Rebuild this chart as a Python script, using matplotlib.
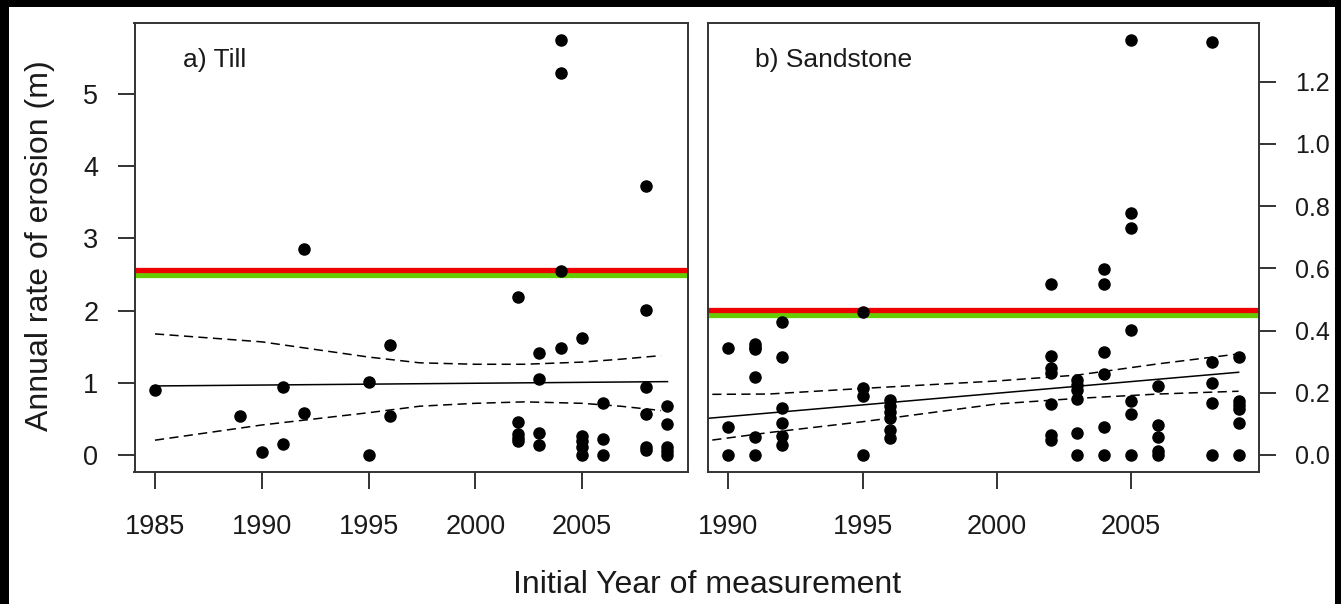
import matplotlib
matplotlib.use('Agg')
import matplotlib.pyplot as plt
from matplotlib.patches import Rectangle

plt.rcParams['font.family'] = ['Liberation Sans', 'DejaVu Sans']

# a) Till: initial year and annual erosion rate (m)
till_year = [1985, 1989, 1990, 1991, 1991, 1992, 1992, 1995, 1995, 1996, 1996,
             2002, 2002, 2002, 2002, 2002,
             2003, 2003, 2003, 2003,
             2004, 2004, 2004, 2004,
             2005, 2005, 2005, 2005, 2005,
             2006, 2006, 2006,
             2008, 2008, 2008, 2008, 2008, 2008,
             2009, 2009, 2009, 2009, 2009]
till_rate = [0.91, 0.54, 0.05, 0.94, 0.16, 2.85, 0.59, 1.02, 0.0, 1.52, 0.54,
             2.19, 0.46, 0.29, 0.24, 0.20,
             1.42, 1.05, 0.31, 0.15,
             5.75, 5.29, 2.55, 1.49,
             1.63, 0.27, 0.20, 0.12, 0.0,
             0.72, 0.23, 0.0,
             3.72, 2.01, 0.94, 0.57, 0.12, 0.07,
             0.68, 0.44, 0.12, 0.06, 0.0]

till_fit_year = [1985, 2009]
till_fit = [0.96, 1.02]
till_band_year = [1985, 1990, 1995, 1997.4, 2000, 2002.3, 2005, 2006.8, 2008.7]
till_upper = [1.68, 1.57, 1.36, 1.28, 1.26, 1.26, 1.29, 1.33, 1.38]
till_lower = [0.21, 0.42, 0.59, 0.68, 0.72, 0.74, 0.72, 0.68, 0.62]
till_red = 2.57
till_green = 2.50

# b) Sandstone
sand_year = [1990, 1990, 1990,
             1991, 1991, 1991, 1991, 1991, 1991,
             1992, 1992, 1992, 1992, 1992, 1992,
             1995, 1995, 1995, 1995,
             1996, 1996, 1996, 1996, 1996, 1996,
             2002, 2002, 2002, 2002, 2002, 2002, 2002,
             2003, 2003, 2003, 2003, 2003, 2003,
             2004, 2004, 2004, 2004, 2004, 2004,
             2005, 2005, 2005, 2005, 2005, 2005, 2005,
             2006, 2006, 2006, 2006, 2006,
             2008, 2008, 2008, 2008, 2008,
             2009, 2009, 2009, 2009, 2009, 2009]
sand_rate = [0.343, 0.091, 0.0,
             0.357, 0.348, 0.340, 0.250, 0.059, 0.0,
             0.429, 0.314, 0.152, 0.104, 0.061, 0.032,
             0.461, 0.214, 0.190, 0.0,
             0.177, 0.159, 0.139, 0.118, 0.080, 0.054,
             0.549, 0.319, 0.279, 0.263, 0.163, 0.064, 0.048,
             0.241, 0.225, 0.209, 0.179, 0.072, 0.0,
             0.597, 0.549, 0.330, 0.259, 0.091, 0.0,
             1.334, 0.779, 0.729, 0.402, 0.174, 0.131, 0.0,
             0.223, 0.096, 0.059, 0.014, 0.0,
             1.329, 0.298, 0.233, 0.168, 0.0,
             0.314, 0.174, 0.160, 0.147, 0.104, 0.0]

sand_fit_year = [1989.25, 2009]
sand_fit = [0.118, 0.266]
sand_band_year = [1989.4, 1991.5, 1995, 2000, 2003, 2006, 2009]
sand_upper = [0.195, 0.196, 0.214, 0.238, 0.257, 0.293, 0.325]
sand_lower = [0.048, 0.072, 0.107, 0.164, 0.182, 0.196, 0.205]
sand_red = 0.467
sand_green = 0.451

W, H = 1341, 604
fig = plt.figure(figsize=(W / 100, H / 100), dpi=100)
fig.patch.set_facecolor('white')
# black frame around the picture
for x, y, w, h in [(0, 0, 9, H), (1335, 0, W - 1335, H), (0, H - 7, W, 7)]:
    fig.patches.append(Rectangle((x / W, y / H), w / W, h / H,
                                 transform=fig.transFigure, facecolor='black',
                                 edgecolor='none'))

ax1 = fig.add_axes([134.5 / W, 1 - 472 / H, (688 - 134.5) / W, (472 - 23) / H])
ax2 = fig.add_axes([708 / W, 1 - 472 / H, (1259 - 708) / W, (472 - 23) / H])


def panel(ax, yr, rate, fy, fv, by, up, lo, red, green, xlim, ylim):
    ax.axhline(green, color='#66cc00', lw=3.8, zorder=1)
    ax.axhline(red, color='#ee0000', lw=3.8, zorder=1)
    ax.plot(fy, fv, color='black', lw=1.1, zorder=2)
    for band in (up, lo):
        ln, = ax.plot(by, band, color='black', lw=1.1, zorder=2)
        ln.set_dashes((6, 3.5))
    ax.plot(yr, rate, 'o', color='black', ms=8, zorder=3, clip_on=False)
    ax.set_xlim(*xlim)
    ax.set_ylim(*ylim)
    for s in ax.spines.values():
        s.set_linewidth(1.4)
        s.set_color('#333333')
    ax.tick_params(length=12, width=1.4, color='#333333', labelsize=19.5,
                   labelcolor='#1a1a1a', pad=14)
    ax.tick_params(axis='x', pad=18)


panel(ax1, till_year, till_rate, till_fit_year, till_fit, till_band_year,
      till_upper, till_lower, till_red, till_green,
      (1984.04, 2009.96), (-0.23, 5.98))
ax1.set_xticks([1985, 1990, 1995, 2000, 2005])
ax1.set_yticks([0, 1, 2, 3, 4, 5])
ax1.annotate('a) Till', xy=(183, H - 60), xycoords='figure pixels',
             fontsize=19, ha='left', va='center', color='#1a1a1a')

panel(ax2, sand_year, sand_rate, sand_fit_year, sand_fit, sand_band_year,
      sand_upper, sand_lower, sand_red, sand_green,
      (1989.24, 2009.76), (-0.0547, 1.389))
ax2.set_xticks([1990, 1995, 2000, 2005])
ax2.set_yticks([0.0, 0.2, 0.4, 0.6, 0.8, 1.0, 1.2])
ax2.set_yticklabels(['0.0', '0.2', '0.4', '0.6', '0.8', '1.0', '1.2'])
ax2.yaxis.tick_right()
ax2.tick_params(axis='y', labelsize=18)
ax2.annotate('b) Sandstone', xy=(755, H - 60), xycoords='figure pixels',
             fontsize=19, ha='left', va='center', color='#1a1a1a')

fig.text(40 / W, 1 - 246 / H, 'Annual rate of erosion (m)', rotation=90,
         fontsize=23, ha='center', va='center', color='#1a1a1a')
fig.text(707 / W, 1 - 585 / H, 'Initial Year of measurement',
         fontsize=23, ha='center', va='center', color='#1a1a1a')

fig.savefig('out.png', dpi=100)
